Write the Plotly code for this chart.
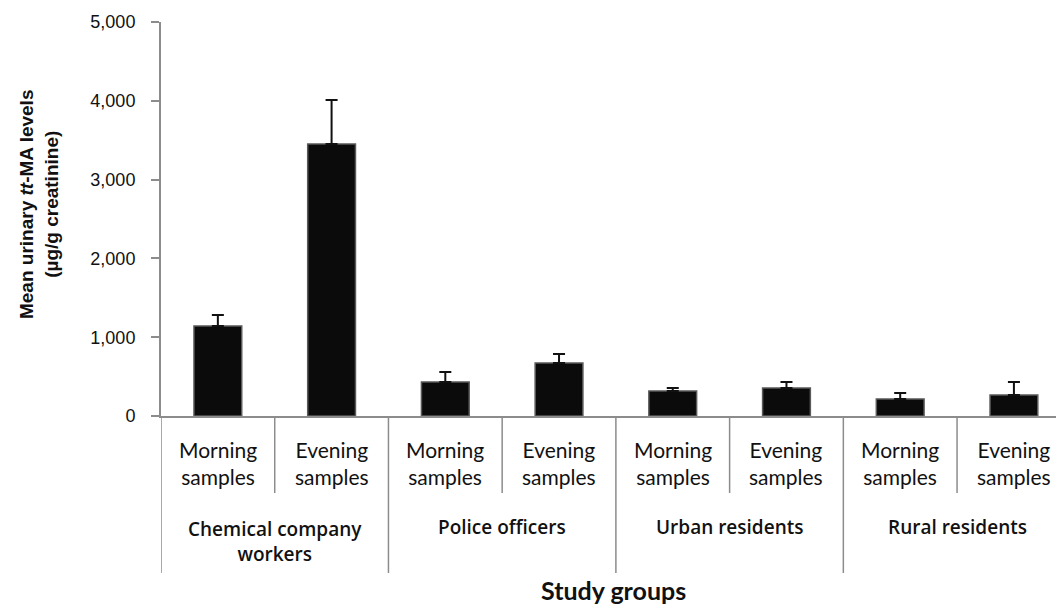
import plotly.graph_objects as go

groups = ["Chemical company<br>workers", "Police officers", "Urban residents", "Rural residents"]
samples = ["Morning<br>samples", "Evening<br>samples"]

# mean urinary tt-MA (µg/g creatinine), ordered group by group, morning then evening
means = [1142, 3452, 431, 673, 317, 355, 216, 267]
upper = [1282, 4010, 558, 787, 355, 431, 292, 431]

y_ticks = [0, 1000, 2000, 3000, 4000, 5000]

n = len(means)
xs = list(range(n))
err_plus = [u - m for u, m in zip(upper, means)]

fig = go.Figure()
fig.add_trace(go.Bar(
    x=xs, y=means, width=0.42,
    marker=dict(color="#0b0b0b", line=dict(color="#5a5a5a", width=1.5)),
    error_y=dict(type="data", symmetric=False, array=err_plus,
                 arrayminus=[0] * n, color="#111", thickness=2, width=6),
    showlegend=False,
))

axis_grey = "#8c8c8c"
cat_family = "Lato, Carlito, sans-serif"
sub_font = dict(family=cat_family, size=21, color="#111")
grp_font = dict(family="Open Sans, sans-serif", size=19, color="#111", weight=600)

# pixel helpers for the area below the plot (plot height is 394 px)
plot_h = 394.0


def below(px):
    return -px / plot_h


shapes = []
annotations = []
# sub-category dividers and labels
for i in range(n):
    annotations.append(dict(x=i, y=below(47.5), xref="x", yref="paper", text=samples[i % 2],
                            showarrow=False, font=sub_font, yanchor="middle"))
    if i % 2 == 1:
        shapes.append(dict(type="line", xref="x", yref="paper", x0=i - 0.5, x1=i - 0.5,
                           y0=0, y1=below(77), line=dict(color=axis_grey, width=1.5)))
# group dividers and labels
for g, name in enumerate(groups):
    x0 = 2 * g - 0.5
    shapes.append(dict(type="line", xref="x", yref="paper", x0=x0, x1=x0,
                       y0=0, y1=below(157), line=dict(color=axis_grey, width=1.5)))
    lines = name.count("<br>") + 1
    annotations.append(dict(x=2 * g + 0.5, y=below(111 + 14.5 * (lines - 1)),
                            xref="x", yref="paper", text=name,
                            showarrow=False, font=grp_font, yanchor="middle"))

# axis titles
annotations.append(dict(x=0.506, y=below(174), xref="paper", yref="paper",
                        text="<b>Study groups</b>", showarrow=False, yanchor="middle",
                        font=dict(family=cat_family, size=25, color="#111")))
annotations.append(dict(x=-0.1363, y=0.5355, xref="paper", yref="paper", textangle=-90,
                        text="<b>Mean urinary <i>tt</i>-MA levels<br>(µg/g creatinine)</b>",
                        showarrow=False, xanchor="center", yanchor="middle",
                        font=dict(family="Liberation Sans, Arial, sans-serif", size=19,
                                  color="#111")))

fig.update_layout(
    width=1056, height=605,
    margin=dict(l=161, r=0, t=22, b=189),
    paper_bgcolor="white", plot_bgcolor="white",
    shapes=shapes, annotations=annotations,
    xaxis=dict(range=[-0.5, n - 0.63], showticklabels=False, ticks="",
               showgrid=False, zeroline=False, showline=True,
               linecolor=axis_grey, linewidth=2),
    yaxis=dict(range=[0, 5000], tickvals=y_ticks,
               tickformat=",d", ticks="outside", ticklen=8, tickcolor=axis_grey, tickwidth=1.5,
               ticklabelstandoff=12,
               showgrid=False, zeroline=False, showline=True,
               linecolor=axis_grey, linewidth=2,
               tickfont=dict(family="Liberation Sans, Arial, sans-serif", size=18, color="#111")),
)

fig.write_html("out.html")
